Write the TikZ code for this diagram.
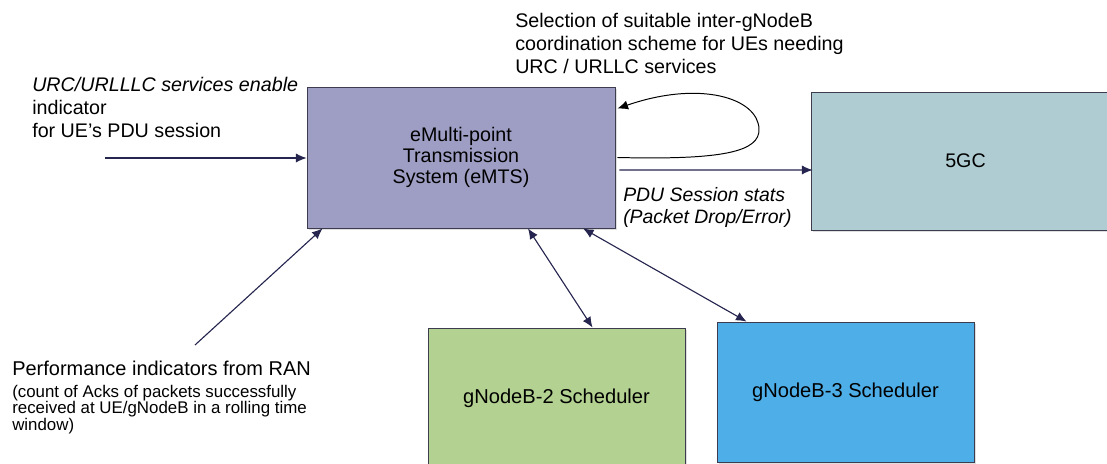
\documentclass[tikz,border=0pt]{standalone}
\usepackage{fontspec}
\setmainfont{Liberation Sans}
\usetikzlibrary{arrows.meta,positioning,calc,shadows}
\definecolor{emtsc}{RGB}{158,158,196}
\definecolor{gcc}{RGB}{174,204,209}
\definecolor{gnbtwo}{RGB}{179,209,144}
\definecolor{gnbthree}{RGB}{77,174,232}
\definecolor{edgec}{RGB}{60,60,78}
\definecolor{arrc}{RGB}{37,37,79}
\tikzset{bx/.style={draw=edgec,line width=.6pt,align=center,inner sep=0pt,font=\fontsize{14}{15.2}\selectfont,drop shadow={opacity=.25,shadow xshift=1.2pt,shadow yshift=-1.2pt}},
 tx/.style={anchor=north west,align=left,inner sep=0pt,font=\fontsize{14}{16.3}\selectfont},
 ar/.style={draw=arrc,line width=.8pt,-{Latex[length=7.5pt,width=6.5pt]}},
 ar2/.style={ar,{Latex[length=7.5pt,width=6.5pt]}-{Latex[length=7.5pt,width=6.5pt]}}}

\begin{document}
\begin{tikzpicture}[x=0.025cm,y=-0.025cm]
\useasboundingbox (0,0) rectangle (1107,464);\clip (0,0) rectangle (1107,464);
% boxes
\node[bx,fill=emtsc,minimum width=7.7cm,minimum height=3.525cm](emts) at (461,157.5){eMulti-point\\Transmission\\System (eMTS)};
\node[bx,fill=gcc,minimum width=7.725cm,minimum height=3.45cm](gc) at (965.5,161){5GC};
\node[bx,fill=gnbtwo,minimum width=6.425cm,minimum height=3.5cm,font=\fontsize{14.3}{15}\selectfont](gnb2) at (556.5,398){gNodeB-2 Scheduler};
\node[bx,fill=gnbthree,minimum width=6.425cm,minimum height=3.5cm,font=\fontsize{14.3}{15}\selectfont](gnb3) at (845.5,392){gNodeB-3 Scheduler};
% texts
\node[tx](urc) at (32,77){\textit{URC/URLLLC services enable}\\indicator\\for UE's PDU session};
\node[tx](sel) at (515,13){Selection of suitable inter-gNodeB\\coordination scheme for UEs needing\\URC / URLLC services};
\node[tx,font=\itshape\fontsize{13.8}{15.6}\selectfont](pdu) at (623,187){PDU Session stats\\(Packet Drop/Error)};
\node[tx,font=\fontsize{14.2}{16}\selectfont](perf) at (12,361){Performance indicators from RAN};
\node[tx,font=\fontsize{12}{11.7}\selectfont,below=6pt of perf.south west,anchor=north west](perfsub){(count of Acks of packets successfully\\received at UE/gNodeB in a rolling time\\window)};
% connectors
\coordinate (urcin) at (105,158);\coordinate (perfend) at (195,345);
\draw[ar](urcin)--(urcin-|emts.west);
\draw[ar](perfend)--($(emts.south west)+(16,0)$);
\draw[ar2]($(emts.south)+(67,0)$)--($(gnb2.north west)+(165,0)$);
\draw[ar2]($(emts.south)+(122,0)$)--($(gnb3.north west)+(30,0)$);
\draw[ar]($(emts.east)+(4,12.5)$)--($(gc.west)+(2,9)$);
\draw[ar,draw=black,line width=.7pt]($(emts.east)+(2,0)$) .. controls (722,160) and (760,152) .. (759,129) .. controls (758,98) and (700,80) .. ($(emts.north east)+(2,22)$);
\end{tikzpicture}
\end{document}
